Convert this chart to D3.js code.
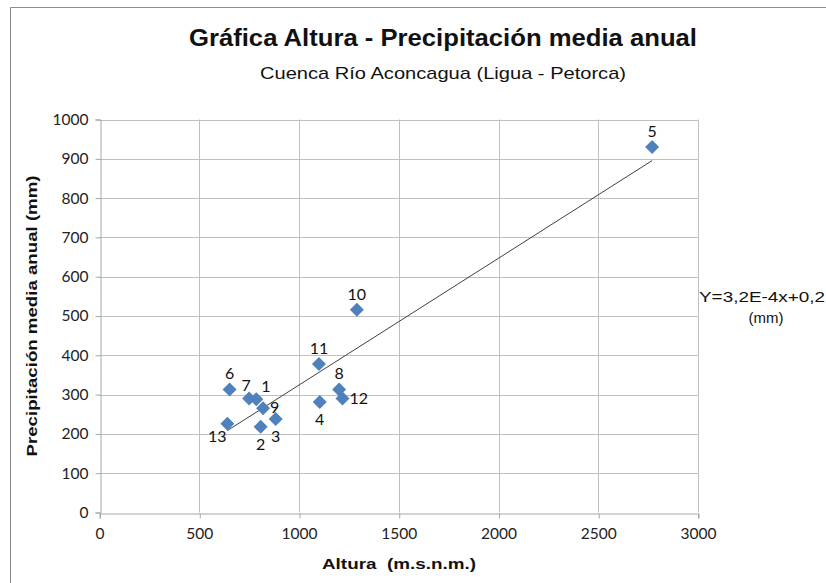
<!DOCTYPE html>
<html><head><meta charset="utf-8">
<script src="https://cdn.jsdelivr.net/npm/d3@7"></script>
<style>body{margin:0;background:#fff}svg{display:block}</style>
</head><body>
<svg id="c" width="826" height="583"></svg>
<script>
const ids = ["1","2","3","4","5","6","7","8","9","10","11","12","13"];
const altura = [786, 808, 883, 1104, 2770, 652, 750, 1201, 820, 1290, 1100, 1218, 641];
const precip = [288, 218, 238, 281, 930, 313, 290, 313, 265, 516, 378, 290, 226];
const labelPos = ["aboveRight","below","below","below","above","above","aboveLeft","above","right","above","above","right","belowLeft"];
const xTicks = [0, 500, 1000, 1500, 2000, 2500, 3000];
const yTicks = [0, 100, 200, 300, 400, 500, 600, 700, 800, 900, 1000];

const svg = d3.select("#c");
const W = 826, H = 583;
const x = d3.scaleLinear().domain([0, 3000]).range([99.5, 698]);
const y = d3.scaleLinear().domain([0, 1000]).range([512.5, 119.5]);

// outer chart border
svg.append("path").attr("d", `M10.5,${H} L10.5,7.5 L${W},7.5`).attr("fill","none").attr("stroke","#8c8c8c").attr("stroke-width",1);

// gridlines
const grid = svg.append("g");
grid.selectAll("line.v").data(xTicks.slice(1)).join("line")
  .attr("x1", d => Math.round(x(d)) + 0.5).attr("x2", d => Math.round(x(d)) + 0.5)
  .attr("y1", y(0)).attr("y2", y(1000)).attr("stroke", "#bfbfbf");
grid.selectAll("line.h").data(yTicks.slice(1)).join("line")
  .attr("x1", x(0)).attr("x2", Math.round(x(3000)) + 0.5)
  .attr("y1", d => Math.round(y(d)) + 0.5).attr("y2", d => Math.round(y(d)) + 0.5).attr("stroke", "#bfbfbf");

// axes
const fontTicks = "Lato, 'Liberation Sans', sans-serif";
const xAxis = svg.append("g").attr("transform", `translate(0,${Math.round(y(0))+0.5})`)
  .call(d3.axisBottom(x).tickValues(xTicks).tickSize(5).tickPadding(9).tickFormat(d3.format("d")));
const yAxis = svg.append("g").attr("transform", `translate(${Math.round(x(0))+0.5},0)`)
  .call(d3.axisLeft(y).tickValues(yTicks).tickSize(5).tickPadding(7).tickFormat(d3.format("d")));
[xAxis, yAxis].forEach(a => {
  a.select(".domain").attr("stroke", "#a6a6a6");
  a.selectAll(".tick line").attr("stroke", "#a6a6a6");
  a.selectAll(".tick text").attr("font-family", fontTicks).attr("font-size", 15.5).attr("fill", "#222");
});
xAxis.selectAll(".tick line").attr("x1", 0.5).attr("x2", 0.5);

// trendline (least squares)
const n = altura.length;
const mx = d3.mean(altura), my = d3.mean(precip);
let sxy = 0, sxx = 0;
for (let i = 0; i < n; i++) { sxy += (altura[i]-mx)*(precip[i]-my); sxx += (altura[i]-mx)**2; }
const slope = sxy / sxx, icpt = my - slope * mx;
const [xmin, xmax] = d3.extent(altura);
svg.append("line")
  .attr("x1", x(xmin)).attr("y1", y(slope*xmin + icpt))
  .attr("x2", x(xmax)).attr("y2", y(slope*xmax + icpt))
  .attr("stroke", "#404040").attr("stroke-width", 1);

// points
const pts = ids.map((id, i) => ({id, a: altura[i], p: precip[i], pos: labelPos[i]}));
const r = 7;
svg.append("g").selectAll("path").data(pts).join("path")
  .attr("d", d => `M${x(d.a)},${y(d.p)-r} L${x(d.a)+r},${y(d.p)} L${x(d.a)},${y(d.p)+r} L${x(d.a)-r},${y(d.p)} Z`)
  .attr("fill", "#4f81bd");

const off = {
  above: [0, -10, "middle"], below: [0, 23, "middle"], right: [7, 5, "start"],
  aboveRight: [5, -7, "start"], aboveLeft: [-3, -8, "middle"], belowLeft: [-10, 18, "middle"]
};
svg.append("g").selectAll("text").data(pts).join("text")
  .attr("x", d => x(d.a) + off[d.pos][0])
  .attr("y", d => y(d.p) + off[d.pos][1])
  .attr("text-anchor", d => off[d.pos][2])
  .attr("font-family", fontTicks).attr("font-size", 16).attr("fill", "#111")
  .text(d => d.id);

// titles
svg.append("text").attr("x", 443).attr("y", 46).attr("text-anchor","middle")
  .attr("font-family","'Liberation Sans', Arial, sans-serif").attr("font-weight","bold").attr("font-size",24)
  .attr("textLength", 508).attr("lengthAdjust","spacingAndGlyphs").attr("fill","#111")
  .text("Gráfica Altura - Precipitación media anual");
svg.append("text").attr("x", 443).attr("y", 79).attr("text-anchor","middle")
  .attr("font-family","'Liberation Sans', Arial, sans-serif").attr("font-size",17)
  .attr("textLength", 366).attr("lengthAdjust","spacingAndGlyphs").attr("fill","#111")
  .text("Cuenca Río Aconcagua (Ligua - Petorca)");
svg.append("text").attr("x", 399).attr("y", 569).attr("text-anchor","middle")
  .attr("font-family","'Liberation Sans', Arial, sans-serif").attr("font-weight","bold").attr("font-size",15)
  .attr("textLength", 154).attr("lengthAdjust","spacingAndGlyphs").attr("fill","#111")
  .style("white-space","pre")
  .text("Altura  (m.s.n.m.)");
svg.append("text").attr("transform","translate(37,316) rotate(-90)").attr("text-anchor","middle")
  .attr("font-family","'Liberation Sans', Arial, sans-serif").attr("font-weight","bold").attr("font-size",15)
  .attr("textLength", 281).attr("lengthAdjust","spacingAndGlyphs").attr("fill","#111")
  .text("Precipitación media anual (mm)");

// equation
const eq = svg.append("g").attr("font-family","'Liberation Sans', Arial, sans-serif").attr("font-size",15).attr("fill","#111");
eq.append("text").attr("x", 699).attr("y", 302).attr("textLength", 126).attr("lengthAdjust","spacingAndGlyphs").text("Y=3,2E-4x+0,2");
eq.append("text").attr("x", 766).attr("y", 323).attr("text-anchor","middle").text("(mm)");
</script>
</body></html>
